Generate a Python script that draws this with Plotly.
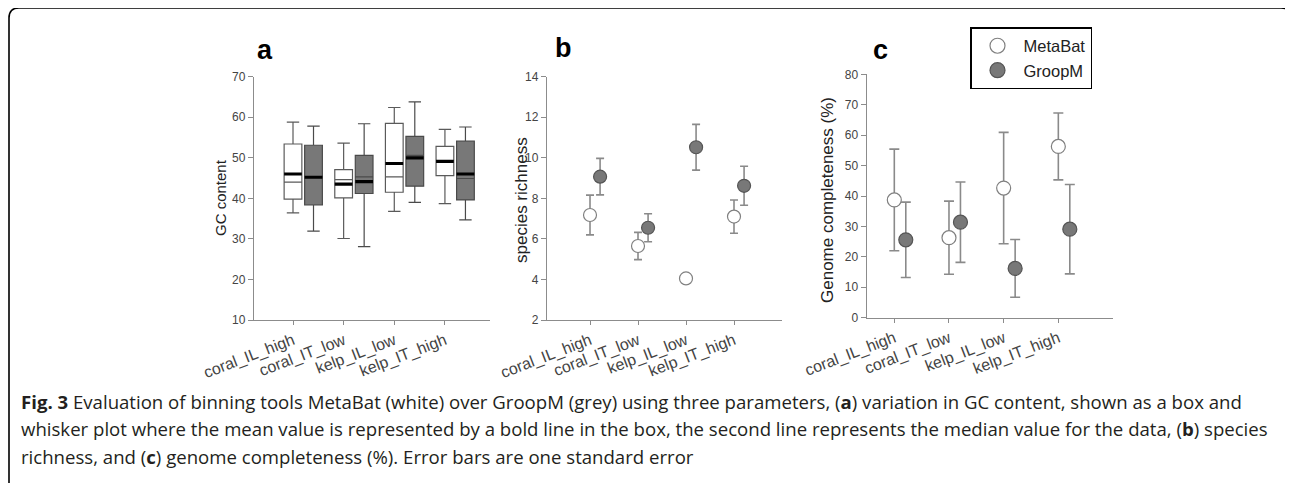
import plotly.graph_objects as go

# page has an 8px body margin; figure is sized so that page = 1293x483
OFF = 8
W, H = 1293 - OFF, 483 - OFF

categories = ["coral_IL_high", "coral_IT_low", "kelp_IL_low", "kelp_IT_high"]

# Panel a: GC content box plots
gc_meta_q1 = [39.8, 40.1, 41.5, 45.6]
gc_meta_median = [44.0, 44.6, 45.3, 49.3]
gc_meta_q3 = [53.4, 47.1, 58.5, 52.8]
gc_meta_low = [36.4, 30.1, 36.8, 38.7]
gc_meta_high = [58.8, 53.6, 62.4, 57.0]
gc_meta_mean = [46.0, 43.5, 48.6, 49.1]

gc_groop_q1 = [38.4, 41.2, 43.0, 39.6]
gc_groop_median = [45.3, 45.3, 50.6, 44.9]
gc_groop_q3 = [53.1, 50.6, 55.3, 54.1]
gc_groop_low = [31.9, 28.1, 39.0, 34.7]
gc_groop_high = [57.8, 58.4, 63.8, 57.6]
gc_groop_mean = [45.2, 44.1, 50.0, 46.0]

# Panel b: species richness (mean, SE)
rich_meta = [7.18, 5.65, 4.05, 7.10]
rich_meta_se = [0.98, 0.67, 0.0, 0.82]
rich_groop = [9.07, 6.55, 10.52, 8.62]
rich_groop_se = [0.90, 0.69, 1.13, 0.96]

# Panel c: genome completeness (%) (mean, SE)
comp_meta = [38.7, 26.3, 42.6, 56.3]
comp_meta_se = [16.7, 12.0, 18.3, 11.0]
comp_groop = [25.6, 31.4, 16.2, 29.1]
comp_groop_se = [12.4, 13.2, 9.5, 14.7]

AXIS_GREY = "#8c8c8c"
SANS = "Liberation Sans, Arial, sans-serif"
TICK_FONT = dict(family=SANS, size=12, color="#444444")
XTICK_FONT = dict(family=SANS, size=16, color="#444444")
GREY_FILL = "#787878"
GREY_EDGE = "#555555"


def px_x(p):
    return (p - OFF) / W


def px_y(p):
    return 1 - (p - OFF) / H


fig = go.Figure()

idx = list(range(len(categories)))
box_w = 0.35
box_off = 0.405
pos_meta_a = [i for i in idx]
pos_groop_a = [i + box_off for i in idx]

fig.add_trace(go.Box(
    x=pos_meta_a, q1=gc_meta_q1, median=gc_meta_median, q3=gc_meta_q3,
    lowerfence=gc_meta_low, upperfence=gc_meta_high,
    width=box_w, whiskerwidth=0.7,
    fillcolor="white", line=dict(color="#5a5a5a", width=1.2),
    xaxis="x", yaxis="y", showlegend=False, hoverinfo="skip"))
fig.add_trace(go.Box(
    x=pos_groop_a, q1=gc_groop_q1, median=gc_groop_median, q3=gc_groop_q3,
    lowerfence=gc_groop_low, upperfence=gc_groop_high,
    width=box_w, whiskerwidth=0.7,
    fillcolor=GREY_FILL, line=dict(color="#4a4a4a", width=1.2),
    xaxis="x", yaxis="y", showlegend=False, hoverinfo="skip"))

# bold mean lines
for pos, means in ((pos_meta_a, gc_meta_mean), (pos_groop_a, gc_groop_mean)):
    xs, ys = [], []
    for p, m in zip(pos, means):
        xs += [p - box_w / 2, p + box_w / 2, None]
        ys += [m, m, None]
    fig.add_trace(go.Scatter(x=xs, y=ys, mode="lines",
                             line=dict(color="black", width=3.2),
                             xaxis="x", yaxis="y", showlegend=False, hoverinfo="skip"))

pt_off = 0.21


def add_points(vals, se, fill, edge, xa, ya, size, cap):
    pos = [i for i in idx] if fill == "white" else [i + pt_off for i in idx]
    fig.add_trace(go.Scatter(
        x=pos, y=vals, mode="markers",
        marker=dict(size=size, color=fill, line=dict(color=edge, width=1.2)),
        error_y=dict(type="data", array=se, visible=True, color="#8a8a8a",
                     thickness=1.6, width=cap),
        xaxis=xa, yaxis=ya, showlegend=False, hoverinfo="skip"))


add_points(rich_meta, rich_meta_se, "white", "#808080", "x2", "y2", 13, 4)
add_points(rich_groop, rich_groop_se, GREY_FILL, GREY_EDGE, "x2", "y2", 13, 4)
add_points(comp_meta, comp_meta_se, "white", "#808080", "x3", "y3", 14, 5)
add_points(comp_groop, comp_groop_se, GREY_FILL, GREY_EDGE, "x3", "y3", 14, 5)

# legend entries
fig.add_trace(go.Scatter(x=[None], y=[None], mode="markers", name="MetaBat",
                         marker=dict(size=15, color="white", line=dict(color="#808080", width=1.2)),
                         xaxis="x3", yaxis="y3"))
fig.add_trace(go.Scatter(x=[None], y=[None], mode="markers", name="GroopM",
                         marker=dict(size=15, color=GREY_FILL, line=dict(color=GREY_EDGE, width=1.2)),
                         xaxis="x3", yaxis="y3"))


def xaxis(dom, rng, anchor):
    return dict(domain=dom, range=rng, tickvals=idx, ticktext=categories,
                tickangle=-21, tickfont=XTICK_FONT, showline=True, linecolor=AXIS_GREY,
                linewidth=1.3, ticks="outside", ticklen=4, tickcolor=AXIS_GREY,
                showgrid=False, zeroline=False, anchor=anchor, fixedrange=True,
                automargin=False)


def yaxis(dom, rng, dtick, anchor):
    return dict(domain=dom, range=rng, dtick=dtick, tickfont=TICK_FONT, showline=True,
                linecolor=AXIS_GREY, linewidth=1.3, ticks="outside", ticklen=5,
                tickcolor=AXIS_GREY, showgrid=False, zeroline=False, anchor=anchor,
                fixedrange=True, automargin=False)


fig.update_layout(
    width=W, height=H, autosize=False,
    margin=dict(l=0, r=0, t=0, b=0, pad=0, autoexpand=False),
    paper_bgcolor="white", plot_bgcolor="white",
    boxmode="overlay",
    xaxis=xaxis([px_x(254), px_x(490)], [-0.77, 3.89], "y"),
    yaxis=yaxis([px_y(320), px_y(76.7)], [10, 70], 10, "x"),
    xaxis2=xaxis([px_x(547), px_x(782)], [-0.896, 4.0], "y2"),
    yaxis2=yaxis([px_y(320), px_y(76.7)], [2, 14], 2, "x2"),
    xaxis3=xaxis([px_x(866.7), px_x(1113)], [-0.505, 4.0], "y3"),
    yaxis3=yaxis([px_y(317.7), px_y(74.3)], [0, 80], 10, "x3"),
    legend=dict(x=px_x(970), y=px_y(27), xanchor="left", yanchor="top",
                bordercolor="black", borderwidth=1.5, bgcolor="white",
                font=dict(family=SANS, size=16.5, color="#222222"),
                itemwidth=42, entrywidth=67, tracegroupgap=0),
    showlegend=True,
)

annos = []
# panel letters
for txt, xp, yp in (("a", 265, 50), ("b", 563, 48), ("c", 880, 50)):
    annos.append(dict(text="<b>%s</b>" % txt, x=px_x(xp), y=px_y(yp), xref="paper", yref="paper",
                      xanchor="center", yanchor="middle", showarrow=False,
                      font=dict(family=SANS, size=27, color="black")))
# axis titles
for txt, xp, yp, fs in (("GC content", 220, 198, 15), ("species richness", 521, 200, 17),
                        ("Genome completeness (%)", 827, 200, 17)):
    annos.append(dict(text=txt, x=px_x(xp), y=px_y(yp), xref="paper", yref="paper",
                      xanchor="center", yanchor="middle", showarrow=False, textangle=-90,
                      font=dict(family=SANS, size=fs, color="#222222")))

caption = [
    "<b>Fig. 3</b> Evaluation of binning tools MetaBat (white) over GroopM (grey) using three parameters, (<b>a</b>) variation in GC content, shown as a box and",
    "whisker plot where the mean value is represented by a bold line in the box, the second line represents the median value for the data, (<b>b</b>) species",
    "richness, and (<b>c</b>) genome completeness (%). Error bars are one standard error",
]
for k, line in enumerate(caption):
    annos.append(dict(text=line, x=px_x(19), y=px_y(401 + 27.7 * k), xref="paper", yref="paper",
                      xanchor="left", yanchor="middle", showarrow=False,
                      font=dict(family="Open Sans, sans-serif", size=18.6, color="#231f20")))
fig.update_layout(annotations=annos)

# rounded frame
x0, x1, y0, y1, r = 9, 1291, 8, 495, 10
path = ("M {a},{b} L {a},{c} Q {a},{d} {e},{d} L {f},{d} Q {g},{d} {g},{c} L {g},{b}").format(
    a=px_x(x0), b=px_y(y1), c=px_y(y0 + r), d=px_y(y0), e=px_x(x0 + r), f=px_x(x1 - r), g=px_x(x1))
fig.add_shape(type="path", path=path, xref="paper", yref="paper",
              line=dict(color="black", width=1.6))

fig.write_html("out.html")
